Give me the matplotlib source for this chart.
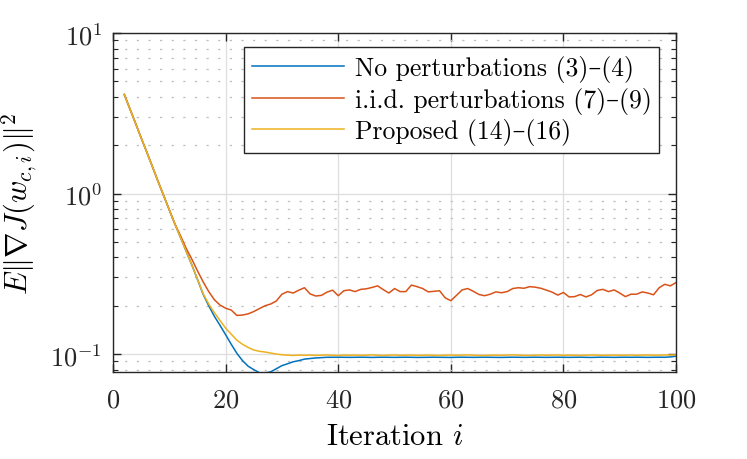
import numpy as np
import matplotlib
matplotlib.use("Agg")
import matplotlib.pyplot as plt
from matplotlib.ticker import LogLocator, NullFormatter

plt.rcParams['font.family'] = ['cmr10', 'DejaVu Serif']
plt.rcParams['mathtext.fontset'] = 'cm'
plt.rcParams['axes.formatter.use_mathtext'] = True

# iterations 2..100
iters = list(range(2, 101))

descent = [4.14, 3.37, 2.74, 2.22, 1.81, 1.47, 1.19, 0.97, 0.79, 0.645]

no_pert = descent + [
    0.531, 0.436, 0.359, 0.292, 0.236, 0.200, 0.172, 0.151, 0.132, 0.115,
    0.101, 0.091, 0.084, 0.080, 0.0765, 0.0762, 0.0775, 0.081, 0.0847, 0.087,
    0.0895, 0.091, 0.093, 0.0938, 0.0946, 0.0950, 0.0955, 0.0955, 0.0956, 0.0955,
    0.0954, 0.0955, 0.0956, 0.0955, 0.0953, 0.0955, 0.0956, 0.0955, 0.0954, 0.0955,
    0.0956, 0.0955, 0.0953, 0.0954, 0.0955, 0.0956, 0.0955, 0.0954, 0.0953, 0.0955,
    0.0956, 0.0955, 0.0954, 0.0955, 0.0956, 0.0955, 0.0954, 0.0953, 0.0955, 0.0956,
    0.0955, 0.0954, 0.0955, 0.0956, 0.0955, 0.0954, 0.0955, 0.0956, 0.0955, 0.0954,
    0.0955, 0.0956, 0.0954, 0.0953, 0.0955, 0.0956, 0.0955, 0.0954, 0.0955, 0.0956,
    0.0955, 0.0956, 0.0955, 0.0954, 0.0955, 0.0956, 0.0955, 0.0960, 0.0970,
]

iid_pert = descent + [
    0.545, 0.455, 0.390, 0.330, 0.282, 0.245, 0.218, 0.202, 0.193, 0.188,
    0.174, 0.175, 0.178, 0.184, 0.192, 0.200, 0.205, 0.214, 0.236, 0.245,
    0.240, 0.250, 0.259, 0.237, 0.230, 0.232, 0.243, 0.250, 0.231, 0.248,
    0.251, 0.245, 0.253, 0.255, 0.260, 0.266, 0.252, 0.240, 0.256, 0.245,
    0.245, 0.269, 0.263, 0.256, 0.244, 0.246, 0.248, 0.224, 0.215, 0.232,
    0.251, 0.256, 0.246, 0.235, 0.231, 0.236, 0.244, 0.241, 0.245, 0.256,
    0.259, 0.257, 0.263, 0.261, 0.257, 0.250, 0.243, 0.233, 0.242, 0.227,
    0.228, 0.235, 0.227, 0.234, 0.249, 0.253, 0.245, 0.251, 0.240, 0.228,
    0.236, 0.236, 0.244, 0.240, 0.234, 0.259, 0.272, 0.266, 0.279,
]

proposed = descent + [
    0.531, 0.436, 0.359, 0.293, 0.238, 0.205, 0.181, 0.162, 0.145, 0.133,
    0.122, 0.115, 0.110, 0.106, 0.104, 0.103, 0.1015, 0.100, 0.099, 0.0985,
    0.0980, 0.0985, 0.0982, 0.0986, 0.0981, 0.0984, 0.0987, 0.0982, 0.0980, 0.0985,
    0.0983, 0.0986, 0.0981, 0.0984, 0.0988, 0.0983, 0.0980, 0.0985, 0.0987, 0.0982,
    0.0984, 0.0986, 0.0981, 0.0983, 0.0985, 0.0982, 0.0980, 0.0984, 0.0986, 0.0983,
    0.0985, 0.0988, 0.0984, 0.0981, 0.0980, 0.0983, 0.0985, 0.0982, 0.0986, 0.0988,
    0.0985, 0.0982, 0.0980, 0.0984, 0.0986, 0.0983, 0.0985, 0.0987, 0.0982, 0.0984,
    0.0983, 0.0981, 0.0984, 0.0987, 0.0985, 0.0982, 0.0984, 0.0986, 0.0983, 0.0985,
    0.0986, 0.0983, 0.0985, 0.0986, 0.0984, 0.0985, 0.0986, 0.0987, 0.0988,
]

labels = ['No perturbations (3)–(4)', 'i.i.d. perturbations (7)–(9)',
          'Proposed (14)–(16)']
colors = ['#0072BD', '#D95319', '#EDB120']

fig = plt.figure(figsize=(7.47, 4.6), dpi=100)
ax = fig.add_axes([0.1513, 0.1891, 0.7537, 0.7369])

for y, lab, c in zip([no_pert, iid_pert, proposed], labels, colors):
    ax.plot(iters, y, color=c, lw=1.1, label=lab)

ax.set_yscale('log')
ax.set_xlim(0, 100)
ax.set_ylim(0.0773, 10)
ax.set_xticks([0, 20, 40, 60, 80, 100])
ax.yaxis.set_major_locator(LogLocator(base=10, numticks=10))
ax.yaxis.set_minor_locator(LogLocator(base=10, subs=np.arange(2, 10), numticks=20))
ax.yaxis.set_minor_formatter(NullFormatter())

ax.grid(True, which='major', color='#dedede', lw=0.9, ls='-')
ax.grid(True, which='minor', axis='y', color='#bdbdbd', lw=0.9, ls=(0, (1.8, 7.5)))
ax.set_axisbelow(True)

for s in ax.spines.values():
    s.set_color('#262626')
    s.set_linewidth(1.0)
ax.tick_params(which='both', direction='in', top=True, right=True,
               colors='#262626', labelcolor='#262626', labelsize=19)
ax.tick_params(which='major', length=6, width=1.0)
ax.tick_params(which='minor', length=3.5, width=0.8)
ax.tick_params(axis='x', which='major', pad=11)
ax.tick_params(axis='y', which='major', pad=8)

ax.set_xlabel(r'Iteration $i$', fontsize=22, labelpad=8)
ax.set_ylabel(r'$E\|\nabla J(w_{c,i})\|^2$', fontsize=22, labelpad=7)

leg = ax.legend(loc='upper right', bbox_to_anchor=(0.970, 0.958), borderaxespad=0,
                fontsize=18.5, handlelength=3.6, handletextpad=0.4,
                labelspacing=0.18, borderpad=0.3, fancybox=False, framealpha=1)
leg.get_frame().set_edgecolor('#262626')
leg.get_frame().set_linewidth(1.0)

fig.savefig('out.png', dpi=100)
